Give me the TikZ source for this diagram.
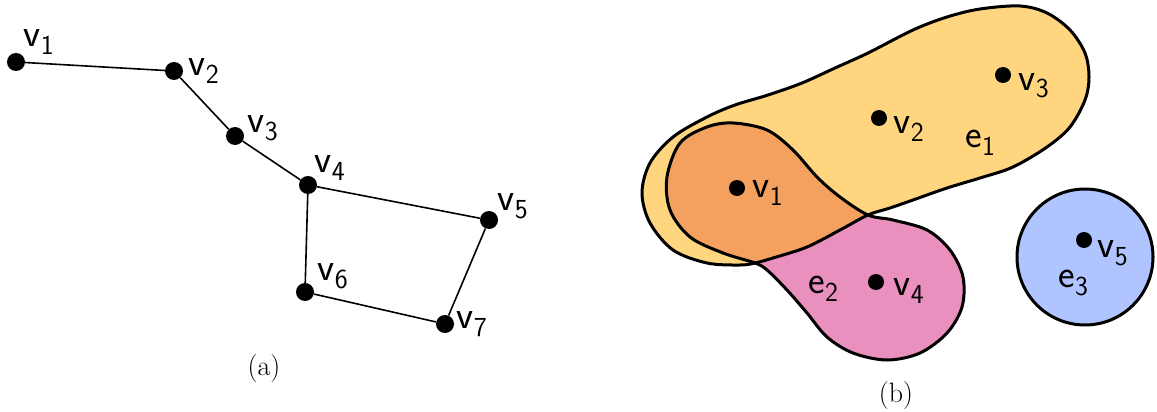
\documentclass[tikz,border=0pt]{standalone}
\newcommand\lbl[2]{#1\kern0.5pt\raisebox{-8pt}{\fontsize{27.5}{28}\selectfont #2}}
\begin{document}
\begin{tikzpicture}[x=1pt,y=-1pt,
  dot/.style={circle,fill=black,inner sep=0pt,minimum size=18pt},
  rdot/.style={circle,fill=black,inner sep=0pt,minimum size=16pt},
  lab/.style={anchor=base west,inner sep=0pt,font=\sffamily\fontsize{39.5}{41}\selectfont},
  captxt/.style={anchor=base,inner sep=0pt,font=\fontsize{28}{30}\selectfont},
  edge/.style={line width=1.6pt},
  hyper/.style={line width=3pt}]
\definecolor{eyellow}{HTML}{FFD580}
\definecolor{eorange}{HTML}{F4A160}
\definecolor{epink}{HTML}{EA90BE}
\definecolor{eblue}{HTML}{B0C4FF}
\useasboundingbox (0,0) rectangle (1157,412);
% ---------- (a) ----------
\node[dot] (a1) at (16,62) {};
\node[dot] (a2) at (174,71) {};
\node[dot] (a3) at (235,136) {};
\node[dot] (a4) at (308,185) {};
\node[dot] (a5) at (489,220) {};
\node[dot] (a6) at (305,292) {};
\node[dot] (a7) at (445,324) {};
\draw[edge] (a1) -- (a2) -- (a3) -- (a4) -- (a5) -- (a7) -- (a6) -- (a4);
\node[lab] (la1) at (23,47) {\lbl{v}{1}};
\node[lab] (la2) at (188,76) {\lbl{v}{2}};
\node[lab] (la3) at (247,132) {\lbl{v}{3}};
\node[lab] (la4) at (314,172) {\lbl{v}{4}};
\node[lab] (la5) at (497,210) {\lbl{v}{5}};
\node[lab] (la6) at (317,280) {\lbl{v}{6}};
\node[lab] (la7) at (456,328) {\lbl{v}{7}};
\node[captxt] (capa) at (264,375) {(a)};
% ---------- (b) ----------
\def\eone{plot[smooth cycle,tension=0.55] coordinates {
  (642,193) (650,163) (673,137) (707,117) (735,105) (768,95) (802,83)
  (835,68) (868,53) (913,30) (947,17) (980,9) (1020,6) (1047,13)
  (1070,30) (1085,53) (1089,77) (1085,100) (1070,127) (1047,147) (1013,167)
  (980,178) (947,188) (913,200) (890,208) (868,215) (840,230) (807,247)
  (773,258) (755,263) (740,265) (707,263) (673,250) (650,223)}}
\def\etwo{plot[smooth cycle,tension=0.55] coordinates {
  (868,215) (893,220) (927,230) (950,250) (963,277) (962,307) (947,333)
  (920,353) (887,360) (853,353) (827,337) (807,313) (787,290) (767,270)
  (755,263) (723,253) (690,237) (670,210) (667,177) (680,143) (707,127)
  (733,123) (767,130) (793,150) (817,177) (840,197)}}
\fill[eyellow] \eone;
\fill[epink] \etwo;
\begin{scope}
  \clip \eone;
  \fill[eorange] \etwo;
\end{scope}
\draw[hyper] \eone;
\draw[hyper] \etwo;
\draw[hyper,fill=eblue] (1085,257) circle (68);
\node[rdot] (b1) at (737,188) {};
\node[rdot] (b2) at (879,118) {};
\node[rdot] (b3) at (1003,75) {};
\node[rdot] (b4) at (876,282) {};
\node[rdot] (b5) at (1084,240) {};
\node[lab] (lb1) at (752,197) {\lbl{v}{1}};
\node[lab] (lb2) at (893,133) {\lbl{v}{2}};
\node[lab] (lb3) at (1018,90) {\lbl{v}{3}};
\node[lab] (lb4) at (893,295) {\lbl{v}{4}};
\node[lab] (lb5) at (1097,257) {\lbl{v}{5}};
\node[lab] (le1) at (965,147) {\lbl{e}{1}};
\node[lab] (le2) at (808,293) {\lbl{e}{2}};
\node[lab] (le3) at (1058,287) {\lbl{e}{3}};
\node[captxt] (capb) at (896,402) {(b)};
\end{tikzpicture}
\end{document}
